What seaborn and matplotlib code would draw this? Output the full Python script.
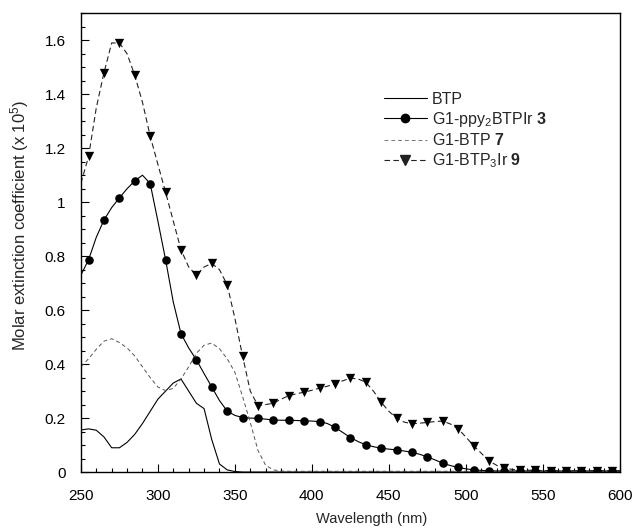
import numpy as np
import pandas as pd
import matplotlib
matplotlib.use("Agg")
import matplotlib.pyplot as plt
from matplotlib.lines import Line2D
from matplotlib.ticker import MultipleLocator
import seaborn as sns

# ---------------- data ----------------
wavelength = list(range(250, 605, 5))  # 5 nm grid, 250..600

btp = [0.156, 0.160, 0.155, 0.130, 0.090, 0.090, 0.110, 0.140, 0.180, 0.225,
       0.270, 0.300, 0.330, 0.345, 0.300, 0.255, 0.235, 0.120, 0.030, 0.008,
       0.002] + [0.0] * 50

ppy_ir3 = [0.730, 0.787, 0.870, 0.934, 0.980, 1.016, 1.050, 1.079, 1.100, 1.069,
           0.930, 0.787, 0.630, 0.513, 0.460, 0.416, 0.365, 0.315, 0.265, 0.226,
           0.210, 0.202, 0.200, 0.199, 0.196, 0.193, 0.192, 0.192, 0.191, 0.190,
           0.189, 0.187, 0.180, 0.166, 0.147, 0.128, 0.113, 0.101, 0.094, 0.088,
           0.085, 0.082, 0.078, 0.073, 0.066, 0.056, 0.045, 0.033, 0.024, 0.017,
           0.012, 0.008, 0.006, 0.005] + [0.004] * 17

btp7 = [0.390, 0.420, 0.455, 0.485, 0.494, 0.480, 0.460, 0.430, 0.390, 0.350,
        0.315, 0.302, 0.310, 0.345, 0.390, 0.440, 0.470, 0.478, 0.457, 0.420,
        0.370, 0.280, 0.184, 0.080, 0.025, 0.008, 0.004] + [0.003] * 44

btp3_ir9 = [1.070, 1.170, 1.350, 1.480, 1.590, 1.590, 1.550, 1.470, 1.370, 1.245,
            1.140, 1.037, 0.930, 0.824, 0.760, 0.729, 0.760, 0.773, 0.750, 0.694,
            0.570, 0.430, 0.300, 0.246, 0.250, 0.255, 0.270, 0.283, 0.290, 0.296,
            0.303, 0.311, 0.318, 0.327, 0.338, 0.348, 0.345, 0.333, 0.300, 0.259,
            0.225, 0.200, 0.185, 0.179, 0.181, 0.184, 0.187, 0.189, 0.178, 0.160,
            0.130, 0.098, 0.070, 0.042, 0.025, 0.015, 0.010, 0.008, 0.007, 0.006] + [0.005] * 11

labels = ["BTP", "G1-ppy$_2$BTPIr $\\mathbf{3}$", "G1-BTP $\\mathbf{7}$",
          "G1-BTP$_3$Ir $\\mathbf{9}$"]

x_ticks = [250, 300, 350, 400, 450, 500, 550, 600]
y_ticks = [0, 0.2, 0.4, 0.6, 0.8, 1.0, 1.2, 1.4, 1.6]
y_ticklabels = ["0", "0.2", "0.4", "0.6", "0.8", "1", "1.2", "1.4", "1.6"]

# ---------------- style ----------------
sns.set_style("ticks")
plt.rcParams["font.family"] = ["Liberation Sans", "DejaVu Sans"]
plt.rcParams["mathtext.fontset"] = "custom"
plt.rcParams["mathtext.rm"] = "Liberation Sans"
plt.rcParams["mathtext.it"] = "Liberation Sans:italic"
plt.rcParams["mathtext.bf"] = "Liberation Sans:bold"

df = pd.DataFrame({"wl": wavelength, "btp": btp, "ppy": ppy_ir3,
                   "btp7": btp7, "ir9": btp3_ir9})
mk = df.iloc[1::2]  # markers every 10 nm (255, 265, ...)

fig = plt.figure(figsize=(6.37, 5.31), dpi=100)
ax = fig.add_axes([0.127, 0.111, 0.846, 0.864])

lw = 0.8
sns.lineplot(data=df, x="wl", y="btp", ax=ax, color="black", lw=lw, sort=False)
sns.lineplot(data=df, x="wl", y="ppy", ax=ax, color="black", lw=lw, sort=False)
sns.lineplot(data=df, x="wl", y="btp7", ax=ax, color="#555555", lw=0.7,
             sort=False, linestyle=(0, (4, 3)))
sns.lineplot(data=df, x="wl", y="ir9", ax=ax, color="#222222", lw=0.8,
             sort=False, linestyle=(0, (5, 3)))
sns.scatterplot(data=mk, x="wl", y="ppy", ax=ax, color="black", marker="o",
                s=38, edgecolor="black", linewidth=0, zorder=5)
sns.scatterplot(data=mk, x="wl", y="ir9", ax=ax, color="black", marker="v",
                s=45, edgecolor="black", linewidth=0, zorder=5)

ax.set_xlim(250, 600)
ax.set_ylim(0, 1.7)
ax.set_xticks(x_ticks)
ax.set_yticks(y_ticks)
ax.set_yticklabels(y_ticklabels)
ax.xaxis.set_minor_locator(MultipleLocator(10))
ax.yaxis.set_minor_locator(MultipleLocator(0.05))
ax.tick_params(which="both", direction="in", width=0.8, colors="black",
               labelsize=11, top=False, right=False)
ax.tick_params(which="major", length=6)
ax.tick_params(which="minor", length=3)
ax.tick_params(axis="x", pad=12)
ax.tick_params(axis="y", pad=11)
for s in ax.spines.values():
    s.set_visible(True)
    s.set_linewidth(1.0)
    s.set_color("black")

ax.set_xlabel("Wavelength (nm)", fontsize=10.5)
ax.set_ylabel("Molar extinction coefficient (x 10$^5$)", fontsize=12)
ax.xaxis.set_label_coords(0.54, -0.087)
ax.yaxis.set_label_coords(-0.092, 0.538)

handles = [
    Line2D([], [], color="black", lw=lw),
    Line2D([], [], color="black", lw=lw, marker="o", markersize=6),
    Line2D([], [], color="#777777", lw=0.7, linestyle=(0, (4, 3))),
    Line2D([], [], color="#222222", lw=0.8, linestyle=(0, (5, 3)),
           marker="v", markersize=6.5),
]
ax.legend(handles, labels, loc="upper left", bbox_to_anchor=(0.562, 0.829),
          frameon=False, fontsize=11.5, handlelength=2.7, handletextpad=0.3,
          labelspacing=0.2, borderpad=0, borderaxespad=0)

fig.savefig("out.png", dpi=100)
